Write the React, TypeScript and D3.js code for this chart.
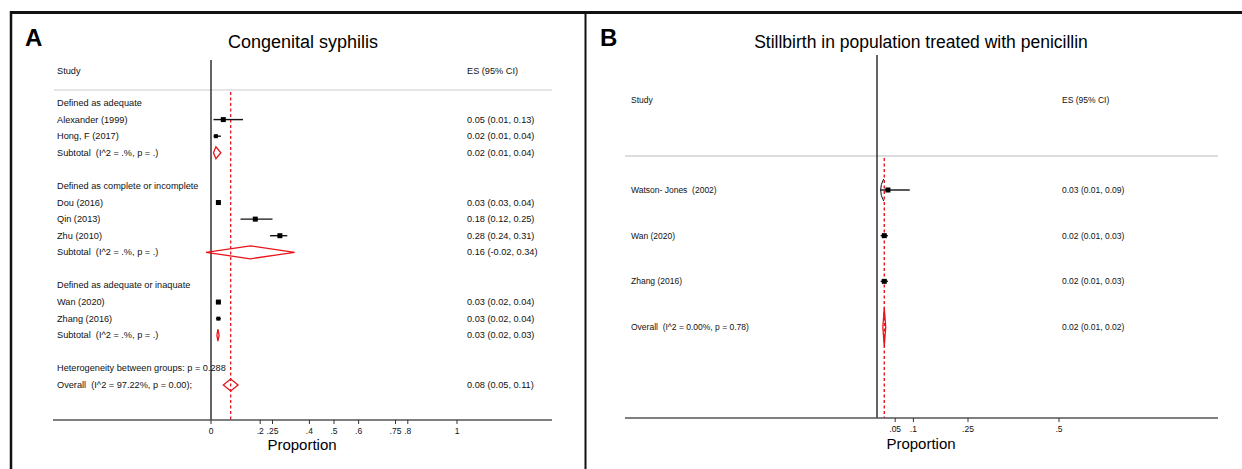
import React from "react";
import * as d3 from "d3";

// ---------- Panel A data ----------
const studiesA = [
  "Defined as adequate",
  "Alexander (1999)",
  "Hong, F (2017)",
  "Subtotal  (I^2 = .%, p = .)",
  "",
  "Defined as complete or incomplete",
  "Dou (2016)",
  "Qin (2013)",
  "Zhu (2010)",
  "Subtotal  (I^2 = .%, p = .)",
  "",
  "Defined as adequate or inaquate",
  "Wan (2020)",
  "Zhang (2016)",
  "Subtotal  (I^2 = .%, p = .)",
  "",
  "Heterogeneity between groups: p = 0.288",
  "Overall  (I^2 = 97.22%, p = 0.00);",
];
// kind: g=group label, s=study, d=diamond, b=blank, t=text only
const kindsA = ["g", "s", "s", "d", "b", "g", "s", "s", "s", "d", "b", "g", "s", "s", "d", "b", "t", "d"];
const esA = [null, 0.05, 0.02, 0.02, null, null, 0.03, 0.18, 0.28, 0.16, null, null, 0.03, 0.03, 0.028, null, null, 0.08];
const lciA = [null, 0.01, 0.01, 0.01, null, null, 0.03, 0.12, 0.24, -0.02, null, null, 0.02, 0.02, 0.024, null, null, 0.05];
const uciA = [null, 0.13, 0.04, 0.04, null, null, 0.04, 0.25, 0.31, 0.34, null, null, 0.04, 0.04, 0.033, null, null, 0.11];
const esTextA = [
  "", "0.05 (0.01, 0.13)", "0.02 (0.01, 0.04)", "0.02 (0.01, 0.04)", "",
  "", "0.03 (0.03, 0.04)", "0.18 (0.12, 0.25)", "0.28 (0.24, 0.31)", "0.16 (-0.02, 0.34)", "",
  "", "0.03 (0.02, 0.04)", "0.03 (0.02, 0.04)", "0.03 (0.02, 0.03)", "",
  "", "0.08 (0.05, 0.11)",
];
const boxA = [0, 5, 4, 0, 0, 0, 5, 5, 5, 0, 0, 0, 5, 4, 0, 0, 0, 0];
const overallA = 0.08;
const ticksA = [0, 0.2, 0.25, 0.4, 0.5, 0.6, 0.75, 0.8, 1];
const tickLabelsA = ["0", ".2", ".25", ".4", ".5", ".6", ".75", ".8", "1"];

// ---------- Panel B data ----------
const studiesB = ["Watson- Jones  (2002)", "Wan (2020)", "Zhang (2016)", "Overall  (I^2 = 0.00%, p = 0.78)"];
const kindsB = ["s", "s", "s", "d"];
const esB = [0.03, 0.02, 0.02, 0.02];
const lciB = [0.01, 0.01, 0.01, 0.016];
const uciB = [0.09, 0.03, 0.03, 0.024];
const esTextB = ["0.03 (0.01, 0.09)", "0.02 (0.01, 0.03)", "0.02 (0.01, 0.03)", "0.02 (0.01, 0.02)"];
const boxB = [5, 5, 5, 0];
const overallB = 0.02;
const ticksB = [0.05, 0.1, 0.25, 0.5];
const tickLabelsB = [".05", ".1", ".25", ".5"];

const FONT = "'Liberation Sans', Arial, Helvetica, sans-serif";

export default function App() {
  const W = 1242;
  const H = 469;

  // Panel A scales
  const xA = d3.scaleLinear().domain([0, 1]).range([211, 457]);
  const yA = d3.scaleLinear().domain([0, 17]).range([103, 385]);
  const axisYA = 420;

  // Panel B scales
  const xB = d3.scaleLinear().domain([0, 0.5]).range([877, 1059]);
  const yB = d3.scaleLinear().domain([0, 3]).range([190, 327]);
  const axisYB = 418;

  const diamond = (x: d3.ScaleLinear<number, number>, l: number, e: number, u: number, cy: number, h: number) =>
    `M${x(l)},${cy} L${x(e)},${cy - h} L${x(u)},${cy} L${x(e)},${cy + h} Z`;

  const txt = { fontFamily: FONT, fontSize: 9.2, fill: "#111", style: { whiteSpace: "pre" as const } };

  return (
    <svg
      width={W}
      height={H}
      style={{ position: "absolute", left: 0, top: 0, background: "#fff" }}
      xmlns="http://www.w3.org/2000/svg"
    >
      <rect x={0} y={0} width={W} height={H} fill="#fff" />
      {/* frame */}
      <line x1={10} y1={12.5} x2={W} y2={12.5} stroke="#111" strokeWidth={3} />
      <line x1={11} y1={11} x2={11} y2={H} stroke="#111" strokeWidth={2.5} />
      <line x1={585.5} y1={12} x2={585.5} y2={H} stroke="#111" strokeWidth={2} />

      {/* ===== Panel A ===== */}
      <text x={25} y={46} fontFamily={FONT} fontSize={24} fontWeight="bold" fill="#000">A</text>
      <text x={303} y={48} textAnchor="middle" fontFamily={FONT} fontSize={18} fill="#000">Congenital syphilis</text>
      <text x={57} y={74} {...txt}>Study</text>
      <text x={467} y={74} {...txt}>ES (95% CI)</text>
      <line x1={54} y1={90} x2={552} y2={90} stroke="#ddd" strokeWidth={1.5} />

      {/* zero line */}
      <line x1={xA(0)} y1={60} x2={xA(0)} y2={axisYA} stroke="#111" strokeWidth={1.3} />
      {/* overall dashed line */}
      <line x1={xA(overallA)} y1={92} x2={xA(overallA)} y2={axisYA} stroke="#e8141c" strokeWidth={1.3} strokeDasharray="3,2.5" />

      {studiesA.map((s, i) => {
        const cy = yA(i);
        const k = kindsA[i];
        return (
          <g key={"a" + i}>
            {s && <text x={57} y={cy + 3} {...txt}>{s}</text>}
            {esTextA[i] && <text x={467} y={cy + 3} {...txt}>{esTextA[i]}</text>}
            {k === "s" && (
              <g>
                <line x1={xA(lciA[i] as number)} y1={cy} x2={xA(uciA[i] as number)} y2={cy} stroke="#111" strokeWidth={1.4} />
                <rect
                  x={xA(esA[i] as number) - boxA[i] / 2}
                  y={cy - boxA[i] / 2}
                  width={boxA[i]}
                  height={boxA[i]}
                  fill="#000"
                />
              </g>
            )}
            {k === "d" && (
              <path
                d={diamond(xA, lciA[i] as number, esA[i] as number, uciA[i] as number, cy, i === 9 ? 6.5 : 6)}
                fill="none"
                stroke="#e8141c"
                strokeWidth={1.3}
              />
            )}
          </g>
        );
      })}

      {/* axis A */}
      <line x1={53} y1={axisYA} x2={552} y2={axisYA} stroke="#555" strokeWidth={1.3} />
      {ticksA.map((t, i) => (
        <g key={"ta" + i}>
          <line x1={xA(t)} y1={axisYA} x2={xA(t)} y2={axisYA + 4} stroke="#333" strokeWidth={1} />
          <text x={xA(t)} y={axisYA + 14} textAnchor="middle" fontFamily={FONT} fontSize={8.5} fill="#111">{tickLabelsA[i]}</text>
        </g>
      ))}
      <text x={xA(0.37)} y={axisYA + 30} textAnchor="middle" fontFamily={FONT} fontSize={15} fill="#000">Proportion</text>

      {/* ===== Panel B ===== */}
      <text x={600} y={46} fontFamily={FONT} fontSize={24} fontWeight="bold" fill="#000">B</text>
      <text x={921} y={48} textAnchor="middle" fontFamily={FONT} fontSize={17.5} fill="#000">Stillbirth in population treated with penicillin</text>
      <text x={631} y={103} {...txt} fontSize={8.5}>Study</text>
      <text x={1062} y={103} {...txt} fontSize={8.5}>ES (95% CI)</text>
      <line x1={625} y1={156} x2={1218} y2={156} stroke="#bbb" strokeWidth={1.2} />

      <line x1={xB(0)} y1={55} x2={xB(0)} y2={axisYB} stroke="#111" strokeWidth={1.3} />
      <line x1={xB(overallB)} y1={158} x2={xB(overallB)} y2={axisYB} stroke="#e8141c" strokeWidth={1.4} strokeDasharray="3,2.5" />

      {studiesB.map((s, i) => {
        const cy = yB(i);
        const k = kindsB[i];
        return (
          <g key={"b" + i}>
            <text x={631} y={cy + 3} {...txt} fontSize={8.5}>{s}</text>
            <text x={1062} y={cy + 3} {...txt} fontSize={8.5}>{esTextB[i]}</text>
            {k === "s" && (
              <g>
                {i === 0 && (
                  <path
                    d={`M${xB(lciB[i]) + 3},${cy - 11} Q${xB(lciB[i]) - 3},${cy} ${xB(lciB[i]) + 3},${cy + 11}`}
                    fill="none"
                    stroke="#111"
                    strokeWidth={1}
                  />
                )}
                <line x1={xB(lciB[i])} y1={cy} x2={xB(uciB[i])} y2={cy} stroke="#111" strokeWidth={1.4} />
                <rect
                  x={xB(esB[i]) - boxB[i] / 2}
                  y={cy - boxB[i] / 2}
                  width={boxB[i]}
                  height={boxB[i]}
                  fill="#000"
                />
              </g>
            )}
            {k === "d" && (
              <path
                d={diamond(xB, lciB[i], esB[i], uciB[i], cy, 19)}
                fill="none"
                stroke="#e8141c"
                strokeWidth={1.3}
              />
            )}
          </g>
        );
      })}

      {/* axis B */}
      <line x1={625} y1={axisYB} x2={1218} y2={axisYB} stroke="#555" strokeWidth={1.3} />
      {ticksB.map((t, i) => (
        <g key={"tb" + i}>
          <line x1={xB(t)} y1={axisYB} x2={xB(t)} y2={axisYB + 4} stroke="#333" strokeWidth={1} />
          <text x={xB(t)} y={axisYB + 14} textAnchor="middle" fontFamily={FONT} fontSize={8.5} fill="#111">{tickLabelsB[i]}</text>
        </g>
      ))}
      <text x={921} y={axisYB + 31} textAnchor="middle" fontFamily={FONT} fontSize={15} fill="#000">Proportion</text>
    </svg>
  );
}
